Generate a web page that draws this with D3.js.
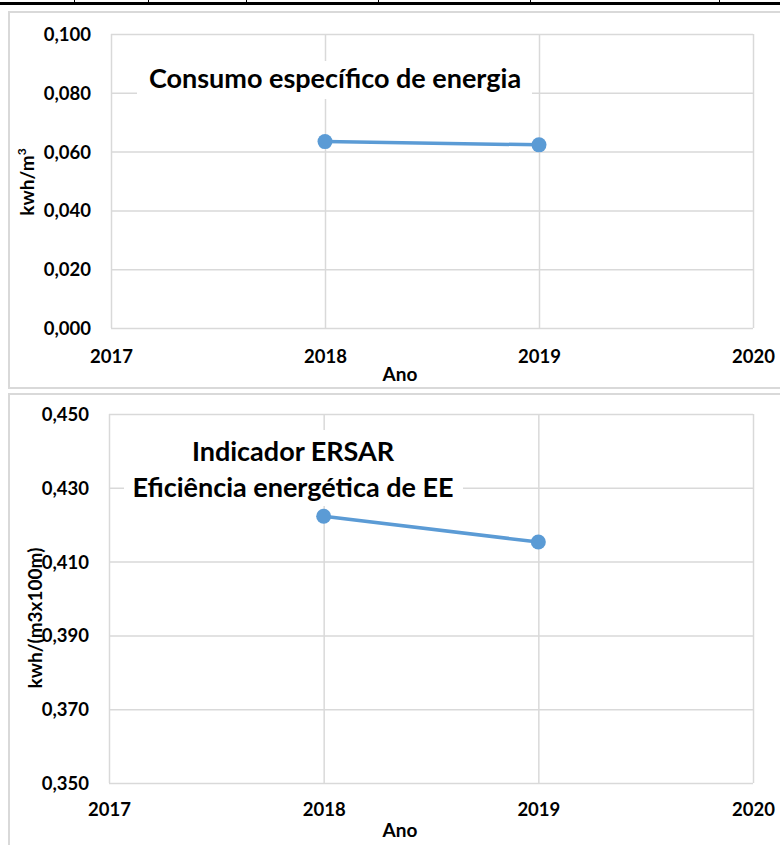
<!DOCTYPE html>
<html>
<head>
<meta charset="utf-8">
<script src="https://cdn.jsdelivr.net/npm/d3@7"></script>
<style>
  html, body { margin: 0; padding: 0; background: #fff; }
  svg { display: block; }
  text { font-family: Lato, "Open Sans", sans-serif; font-weight: bold; fill: #000; }
</style>
</head>
<body>
<svg id="fig" width="780" height="845"></svg>
<script>
// Years on the horizontal axis
const yearTicks = [2017, 2018, 2019, 2020];
const years = [2018, 2019];

// Consumo específico de energia (kwh/m³)
const consumoValues = [0.0634, 0.0623];
const consumoTicks = [0.000, 0.020, 0.040, 0.060, 0.080, 0.100];

// Indicador ERSAR – eficiência energética de EE (kwh/(m3x100m))
const ersarValues = [0.4223, 0.4153];
const ersarTicks = [0.350, 0.370, 0.390, 0.410, 0.430, 0.450];

// Column edges of the table row above the charts
const tableColumns = [74, 148, 246, 378, 530, 719];

const ptLocale = d3.formatLocale({ decimal: ",", thousands: ".", grouping: [3], currency: ["", " €"] });
const fmt3 = ptLocale.format(".3f");

const svg = d3.select("#fig");
const GRID = "#d9d9d9";
const BLUE = "#5b9bd5";
const TICK_SIZE = 18.5;

// table rule and column separators at the top
svg.append("rect").attr("x", 0).attr("y", 2).attr("width", 780).attr("height", 3).attr("fill", "#000");
svg.selectAll("line.col").data(tableColumns).join("line")
  .attr("x1", d => d + 0.5).attr("x2", d => d + 0.5)
  .attr("y1", 0).attr("y2", 3)
  .attr("stroke", "#000").attr("stroke-width", 1);

function drawChart(cfg) {
  const g = svg.append("g");

  // chart frame
  g.append("rect")
    .attr("x", cfg.frame.x).attr("y", cfg.frame.y)
    .attr("width", cfg.frame.w).attr("height", cfg.frame.h)
    .attr("fill", "#fff").attr("stroke", GRID).attr("stroke-width", 2);

  const x = d3.scaleLinear().domain([2017, 2020]).range([cfg.plot.left, cfg.plot.right]);
  const y = d3.scaleLinear().domain(d3.extent(cfg.ticks)).range([cfg.plot.bottom, cfg.plot.top]);

  // horizontal gridlines
  g.append("g")
    .attr("transform", `translate(${cfg.plot.left},0)`)
    .call(d3.axisLeft(y).tickValues(cfg.ticks).tickSize(-(cfg.plot.right - cfg.plot.left)).tickFormat(""))
    .call(a => a.select(".domain").remove())
    .call(a => a.selectAll("line").attr("stroke", GRID).attr("stroke-width", 1.5));

  // vertical gridlines
  g.append("g")
    .attr("transform", `translate(0,${cfg.plot.bottom})`)
    .call(d3.axisBottom(x).tickValues(yearTicks).tickSize(-(cfg.plot.bottom - cfg.plot.top)).tickFormat(""))
    .call(a => a.select(".domain").remove())
    .call(a => a.selectAll("line").attr("stroke", GRID).attr("stroke-width", 1.5));

  // y tick labels
  g.append("g")
    .attr("transform", `translate(${cfg.plot.left},0)`)
    .call(d3.axisLeft(y).tickValues(cfg.ticks).tickSize(0).tickPadding(20).tickFormat(fmt3))
    .call(a => a.select(".domain").remove())
    .call(a => a.selectAll("text").attr("font-size", TICK_SIZE).attr("font-family", null).attr("dy", "0.35em"));

  // x tick labels
  g.append("g")
    .attr("transform", `translate(0,${cfg.plot.bottom})`)
    .call(d3.axisBottom(x).tickValues(yearTicks).tickSize(0).tickPadding(0).tickFormat(d3.format("d")))
    .call(a => a.select(".domain").remove())
    .call(a => a.selectAll("text").attr("font-size", TICK_SIZE).attr("font-family", null)
      .attr("y", cfg.xLabelOffset).attr("dy", "0.35em"));

  // axis titles
  g.append("text")
    .attr("x", cfg.xTitle.x).attr("y", cfg.xTitle.y).attr("dy", "0.35em")
    .attr("text-anchor", "middle").attr("font-size", 19)
    .text("Ano");

  const yt = g.append("text")
    .attr("transform", `translate(${cfg.yTitle.x},${cfg.yTitle.y}) rotate(-90)`)
    .attr("dy", "0.35em").attr("text-anchor", "middle").attr("font-size", cfg.yTitle.size);
  cfg.yTitle.render(yt);

  // chart title on a white box
  const tg = g.append("g");
  tg.append("rect")
    .attr("x", cfg.titleBox.x).attr("y", cfg.titleBox.y)
    .attr("width", cfg.titleBox.w).attr("height", cfg.titleBox.h)
    .attr("fill", "#fff");
  cfg.title.lines.forEach((t, i) => {
    tg.append("text")
      .attr("x", cfg.title.x).attr("y", cfg.title.y + i * cfg.title.lineHeight)
      .attr("dy", "0.35em").attr("text-anchor", "middle")
      .attr("font-size", cfg.title.size)
      .text(t);
  });

  // series line and markers
  const pts = years.map((yr, i) => [yr, cfg.values[i]]);
  g.append("path")
    .datum(pts)
    .attr("fill", "none").attr("stroke", BLUE).attr("stroke-width", 3.5)
    .attr("d", d3.line().x(d => x(d[0])).y(d => y(d[1])));
  g.selectAll("circle.pt").data(pts).join("circle")
    .attr("cx", d => x(d[0])).attr("cy", d => y(d[1])).attr("r", 7.5)
    .attr("fill", BLUE);
}

drawChart({
  frame: { x: 9, y: 12, w: 790, h: 376 },
  plot: { left: 111, right: 753, top: 34, bottom: 328 },
  ticks: consumoTicks,
  values: consumoValues,
  xLabelOffset: 29,
  xTitle: { x: 400, y: 374 },
  yTitle: { x: 27, y: 182, size: 19, render: t => {
    t.append("tspan").text("kwh/m");
    t.append("tspan").attr("font-size", 12).attr("dy", "-0.65em").text("3");
  } },
  titleBox: { x: 137, y: 61, w: 395, h: 38 },
  title: { x: 335, y: 79, lineHeight: 0, size: 27, lines: ["Consumo específico de energia"] }
});

drawChart({
  frame: { x: 9, y: 394, w: 790, h: 470 },
  plot: { left: 109, right: 753, top: 414, bottom: 783 },
  ticks: ersarTicks,
  values: ersarValues,
  xLabelOffset: 27,
  xTitle: { x: 400, y: 830 },
  yTitle: { x: 35, y: 618, size: 19, render: t => t.text("kwh/(m3x100m)") },
  titleBox: { x: 124, y: 430, w: 339, h: 76 },
  title: { x: 293, y: 452, lineHeight: 36, size: 27, lines: ["Indicador ERSAR", "Eficiência energética de EE"] }
});
</script>
</body>
</html>
